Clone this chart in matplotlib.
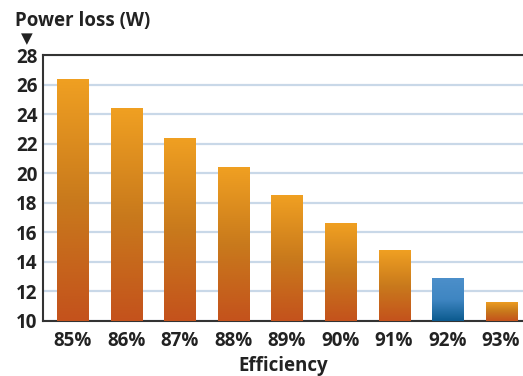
import numpy as np
import matplotlib
matplotlib.use('Agg')
import matplotlib.pyplot as plt
from matplotlib.colors import LinearSegmentedColormap

# values
categories = ['85%', '86%', '87%', '88%', '89%', '90%', '91%', '92%', '93%']
power_loss = [26.4, 24.4, 22.4, 20.4, 18.5, 16.6, 14.8, 12.9, 11.3]
highlight = '92%'

plt.rcParams['font.family'] = ['Open Sans', 'DejaVu Sans']

orange = LinearSegmentedColormap.from_list('orange', ['#c4521c', '#c97a1c', '#f0a022'])
blue = LinearSegmentedColormap.from_list('blue', ['#0b5a8e', '#3f86c2', '#4c8fca'])

fig = plt.figure(figsize=(5.23, 3.76), dpi=100)
ax = fig.add_axes([0.0822, 0.1463, 0.9178, 0.7074])

x = np.arange(len(categories))
bars = ax.bar(x, power_loss, width=0.58, bottom=0, color='none', zorder=3)
ax.set_ylim(10, 28)
ax.set_xlim(-0.56, 8.41)

grad = np.linspace(0, 1, 256).reshape(-1, 1)
for b, cat in zip(bars, categories):
    x0, w, h = b.get_x(), b.get_width(), b.get_height()
    cmap = blue if cat == highlight else orange
    im = ax.imshow(grad, cmap=cmap, origin='lower', aspect='auto',
                   extent=[x0, x0 + w, 10, h], zorder=3)
    im.set_clip_path(b)

ax.set_yticks(range(10, 29, 2))
ax.yaxis.grid(True, color='#c9d8e8', linewidth=1.6, zorder=1)
ax.set_axisbelow(True)
ax.set_xticks(x)
ax.set_xticklabels(categories)
ax.tick_params(length=0, labelsize=13.5, labelcolor='#222222')
ax.tick_params(axis='x', pad=7)
ax.tick_params(axis='y', pad=4)
for lab in ax.get_xticklabels() + ax.get_yticklabels():
    lab.set_fontweight('bold')

for s in ['left', 'bottom', 'top']:
    ax.spines[s].set_color('#333333')
    ax.spines[s].set_linewidth(1.5)
ax.spines['right'].set_visible(False)

ax.set_xlabel('Efficiency', fontsize=13.5, fontweight='bold', color='#222222', labelpad=4)
fig.text(0.028, 0.945, 'Power loss (W)', fontsize=13.5, fontweight='bold', color='#222222', va='center')
fig.text(0.052, 0.898, '\u25bc', fontsize=11, color='#222222', ha='center', va='center',
         family=['DejaVu Sans'])

fig.savefig('out.png', dpi=100)
